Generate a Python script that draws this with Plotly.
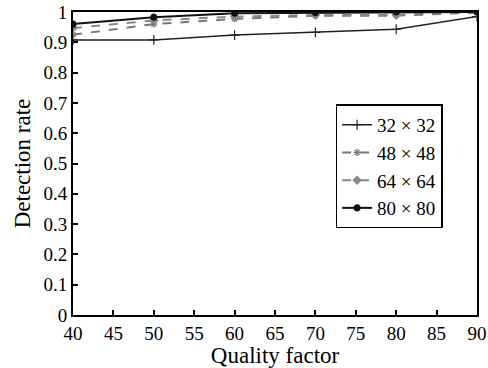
import plotly.graph_objects as go

quality = [40, 50, 60, 70, 80, 90]
rate_32 = [0.908, 0.908, 0.924, 0.933, 0.943, 0.985]
rate_48 = [0.925, 0.960, 0.977, 0.988, 0.988, 0.998]
rate_64 = [0.947, 0.972, 0.985, 0.990, 0.990, 1.000]
rate_80 = [0.960, 0.983, 0.996, 0.998, 1.000, 1.000]
names = ["32 × 32", "48 × 48", "64 × 64", "80 × 80"]
x_ticks = [40, 45, 50, 55, 60, 65, 70, 75, 80, 85, 90]
y_ticks = [0, 0.1, 0.2, 0.3, 0.4, 0.5, 0.6, 0.7, 0.8, 0.9, 1]
y_tick_text = ["0", "0.1", "0.2", "0.3", "0.4", "0.5", "0.6", "0.7", "0.8", "0.9", "1"]

fig = go.Figure()
styles = [
    (rate_32, "#222222", "solid", "cross-thin-open", 1.5, 7),
    (rate_48, "#777777", "dash", "asterisk-open", 2.0, 6),
    (rate_64, "#888888", "dash", "diamond", 2.0, 6),
    (rate_80, "#111111", "solid", "circle", 2.0, 6),
]
for (vals, col, dash, sym, w, ms), nm in zip(styles, names):
    fig.add_trace(go.Scatter(
        x=quality, y=vals, name=nm, mode="lines+markers",
        line=dict(color=col, dash=dash, width=w),
        marker=dict(symbol=sym, size=ms, color=col, line=dict(color=col, width=1.2)),
    ))

font = dict(family="Liberation Serif, Times New Roman, serif", size=19, color="black")
fig.update_layout(
    width=488, height=368,
    margin=dict(l=73, r=11, t=12, b=53),
    paper_bgcolor="white", plot_bgcolor="white",
    font=font,
    showlegend=True,
    legend=dict(x=0.65, y=0.695, xanchor="left", yanchor="top",
                bordercolor="black", borderwidth=1.5, bgcolor="white",
                font=dict(family=font["family"], size=19, color="black"),
                itemwidth=30, tracegroupgap=0),
)
fig.update_xaxes(
    range=[40, 90], tickvals=x_ticks, ticks="inside", ticklen=5, tickwidth=1.5,
    tickcolor="black", showline=True, linecolor="black", linewidth=2, mirror=True,
    showgrid=False, zeroline=False, title=dict(text="Quality factor", standoff=2),
    tickfont=font, ticklabeloverflow="allow", automargin=False,
)
fig.update_yaxes(
    range=[0, 1.0], tickvals=y_ticks, ticktext=y_tick_text, ticks="inside", ticklen=5,
    tickwidth=1.5, tickcolor="black", showline=True, linecolor="black", linewidth=2,
    mirror=True, showgrid=False, zeroline=False, automargin=False,
    title=dict(text="Detection rate", standoff=6), tickfont=font,
)
fig.write_html("out.html")
